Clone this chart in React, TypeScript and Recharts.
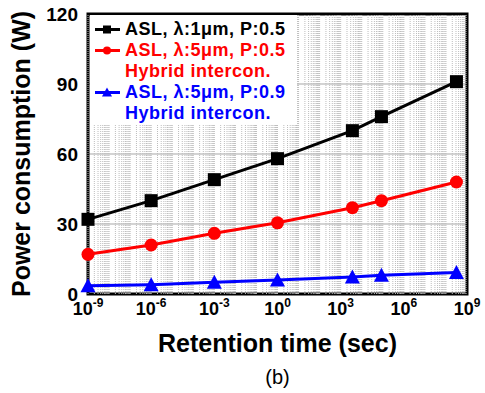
import React from 'react';
import { LineChart, Line, XAxis, YAxis, CartesianGrid, ReferenceLine, ReferenceArea, Legend, Label } from 'recharts';

// retention time in seconds: 1 ns, 1 µs, 1 ms, 1 s, 1 hour, 1 day, 10 years
const retentionTime = [1e-9, 1e-6, 1e-3, 1, 3.6e3, 8.64e4, 3.15e8];
const asl1umP05 = [32, 40, 49, 58, 70, 76, 91];
const asl5umP05 = [17, 21, 26, 30.5, 37, 40, 48];
const asl5umP09 = [3.5, 4, 5, 6, 7.3, 8, 9.2];

const xTicks = [1e-9, 1e-6, 1e-3, 1, 1e3, 1e6, 1e9];
const yTicks = [0, 30, 60, 90, 120];
const gridDecades = [-9, -8, -7, -6, -5, -4, -3, -2, -1, 0, 1, 2, 3, 4, 5, 6, 7, 8];
const gridSteps = [1, 2, 3, 4, 5, 6, 7, 8, 9];

const FONT = '"Liberation Sans", Arial, Helvetica, sans-serif';

type Shape = 'square' | 'circle' | 'triangle';

const series: { key: string; color: string; shape: Shape; lines: string[] }[] = [
  { key: 'p1', color: '#000000', shape: 'square', lines: ['ASL, λ:1μm, P:0.5'] },
  { key: 'p2', color: '#ff0000', shape: 'circle', lines: ['ASL, λ:5μm, P:0.5', 'Hybrid intercon.'] },
  { key: 'p3', color: '#0000ff', shape: 'triangle', lines: ['ASL, λ:5μm, P:0.9', 'Hybrid intercon.'] },
];

const data = retentionTime.map((t, i) => ({
  t,
  p1: asl1umP05[i],
  p2: asl5umP05[i],
  p3: asl5umP09[i],
}));

// log grid: 1..9 x 10^n for every decade on the axis
const gridValues = gridDecades.flatMap((d) => gridSteps.map((s) => s * Math.pow(10, d)));

function Marker({ cx, cy, shape, color, size }: { cx: number; cy: number; shape: Shape; color: string; size: number }) {
  const h = size / 2;
  if (shape === 'square') return <rect x={cx - h} y={cy - h} width={size} height={size} fill={color} />;
  if (shape === 'circle') return <circle cx={cx} cy={cy} r={h} fill={color} />;
  return <polygon points={`${cx},${cy - h - 1} ${cx + h + 1},${cy + h} ${cx - h - 1},${cy + h}`} fill={color} />;
}

const XTick = ({ x, y, payload }: any) => {
  const exp = Math.round(Math.log10(payload.value));
  return (
    <text x={x} y={y + 21} textAnchor="middle" fontFamily={FONT} fontWeight="bold" fontSize={18} fill="#000">
      <tspan>10</tspan>
      <tspan dy={-8} fontSize={12}>{exp}</tspan>
    </text>
  );
};

const renderLegend = () => (
  <div style={{ background: '#fff', width: 207, height: 110, paddingTop: 4, paddingLeft: 2, boxSizing: 'border-box' }}>
    {series.map((s) =>
      s.lines.map((line, j) => (
        <div key={s.key + j} style={{ display: 'flex', alignItems: 'center', height: 21 }}>
          <svg width={33} height={21} style={{ flex: 'none' }}>
            {j === 0 && (
              <>
                <line x1={3} y1={10.5} x2={28} y2={10.5} stroke={s.color} strokeWidth={3} />
                <Marker cx={15} cy={10.5} shape={s.shape} color={s.color} size={8} />
              </>
            )}
          </svg>
          <span
            style={{
              color: s.color,
              fontFamily: FONT,
              fontWeight: 'bold',
              fontSize: 18,
              letterSpacing: 0.5,
              whiteSpace: 'nowrap',
            }}
          >
            {line}
          </span>
        </div>
      ))
    )}
  </div>
);

export default function App() {
  return (
    <div style={{ position: 'absolute', left: 0, top: 0, background: '#fff' }}>
      <LineChart width={485} height={393} data={data} margin={{ top: 14, right: 18, bottom: 0, left: 0 }}>
        <CartesianGrid vertical={false} stroke="#c4c4c4" strokeWidth={1.5} />
        {gridValues.map((v) => (
          <ReferenceLine key={v} x={v} stroke="#bdbdbd" strokeDasharray="1 1" strokeWidth={1} />
        ))}
        <XAxis
          dataKey="t"
          type="number"
          scale="log"
          domain={[1e-9, 1e9]}
          ticks={xTicks}
          axisLine={false}
          tickLine={false}
          tickSize={0}
          tickMargin={0}
          height={99}
          tick={<XTick />}
          interval={0}
        >
          <Label
            content={({ viewBox }: any) => {
              const cx = viewBox.x + viewBox.width / 2;
              return (
                <g fontFamily={FONT} textAnchor="middle">
                  <text x={cx} y={viewBox.y + 58} fontWeight="bold" fontSize={25} fill="#000">
                    Retention time (sec)
                  </text>
                  <text x={cx} y={viewBox.y + 90} fontSize={20} fill="#000">
                    (b)
                  </text>
                </g>
              );
            }}
          />
        </XAxis>
        <YAxis
          type="number"
          domain={[0, 120]}
          ticks={yTicks}
          width={88}
          axisLine={false}
          tickLine={false}
          tickSize={0}
          tickMargin={10}
          interval={0}
          tick={{ fontFamily: FONT, fontWeight: 'bold', fontSize: 19, fill: '#000' }}
        >
          <Label
            content={({ viewBox }: any) => {
              const cx = viewBox.x + 21;
              const cy = viewBox.y + viewBox.height / 2;
              return (
                <text
                  x={cx}
                  y={cy}
                  transform={`rotate(-90 ${cx} ${cy})`}
                  textAnchor="middle"
                  dominantBaseline="central"
                  fontFamily={FONT}
                  fontWeight="bold"
                  fontSize={25}
                  fill="#000"
                >
                  Power consumption (W)
                </text>
              );
            }}
          />
        </YAxis>
        <ReferenceArea x1={1e-9} x2={1e9} y1={0} y2={120} fill="none" stroke="#000" strokeWidth={3} />
        <Legend
          layout="vertical"
          align="center"
          verticalAlign="middle"
          content={renderLegend}
          wrapperStyle={{ left: 90, top: 15, width: 207, height: 110 }}
        />
        {series.map((s) => (
          <Line
            key={s.key}
            dataKey={s.key}
            stroke={s.color}
            strokeWidth={3}
            isAnimationActive={false}
            dot={(p: any) => <Marker key={p.index} cx={p.cx} cy={p.cy} shape={s.shape} color={s.color} size={13} />}
            activeDot={false}
          />
        ))}
      </LineChart>
    </div>
  );
}
